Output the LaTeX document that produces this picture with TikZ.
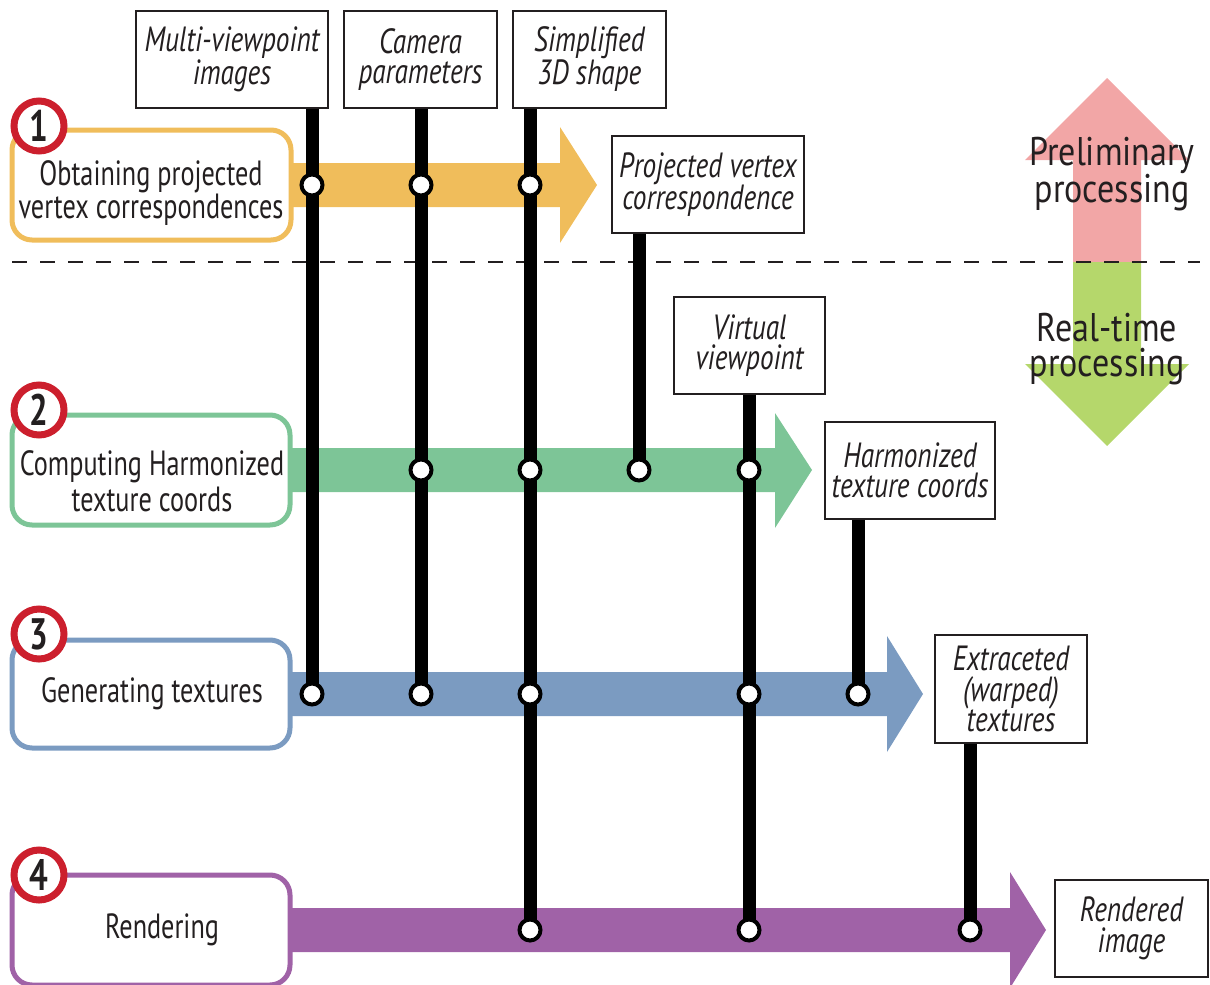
\documentclass[tikz,border=0pt]{standalone}
\usepackage{fontspec}
\setmainfont[FakeStretch=0.75]{PT Sans}
\newfontfamily\itfam[FakeStretch=0.78]{PT Sans Italic}
\newfontfamily\sidefam[FakeStretch=0.85]{PT Sans}
\definecolor{txt}{HTML}{231F20}
\definecolor{orangeA}{HTML}{F0BD5B}
\definecolor{greenA}{HTML}{7DC597}
\definecolor{blueA}{HTML}{7B9BC1}
\definecolor{purpleA}{HTML}{A062A7}
\definecolor{numred}{HTML}{CC1F2D}
\definecolor{pinkA}{HTML}{F2A6A6}
\definecolor{limeA}{HTML}{B5D76B}
\begin{document}
\begin{tikzpicture}[x=1pt,y=-1pt,
  inbox/.style={draw=txt, line width=1.5pt, fill=white, text=txt,
    font=\itfam\fontsize{35}{30.5}\selectfont, align=center, inner sep=0pt},
  procbox/.style={line width=5pt, rounded corners=20pt, fill=white, inner sep=0pt},
  proclabel/.style={text=txt, font=\fontsize{35}{31}\selectfont, align=center, inner sep=0pt},
  bar/.style={line width=13pt, draw=black},
  dot/.style={circle, draw=black, fill=white, line width=4pt, minimum size=21pt, inner sep=0pt},
  num/.style={circle, draw=numred, fill=white, line width=7pt, minimum size=50pt,
    inner sep=0pt, text=txt, font=\bfseries\fontsize{44}{44}\selectfont},
  sidelabel/.style={text=txt, font=\sidefam\fontsize{40}{35}\selectfont, align=center, inner sep=0pt},
]
\useasboundingbox (0,0) rectangle (1210,985);

% right side arrows
\fill[pinkA] (1073,262) -- (1073,160) -- (1025,160) -- (1107,78) -- (1189,160) -- (1141,160) -- (1141,262) -- cycle;
\fill[limeA] (1073,262) -- (1073,364) -- (1025,364) -- (1107,446) -- (1189,364) -- (1141,364) -- (1141,262) -- cycle;
\draw[txt, line width=2pt, dash pattern=on 15pt off 13pt] (12,262) -- (1200,262);
\node[sidelabel] (prelim) at (1112,174) {Preliminary\\processing};
\node[sidelabel] (realtime) at (1107,349) {Real-time\\processing};

% process arrows
\fill[orangeA] (280,163) -- (560,163) -- (560,127) -- (597,185) -- (560,243) -- (560,207) -- (280,207) -- cycle;
\fill[greenA] (280,448) -- (775,448) -- (775,413) -- (812,470) -- (775,528) -- (775,492) -- (280,492) -- cycle;
\fill[blueA] (280,672) -- (887,672) -- (887,636) -- (923,694) -- (887,752) -- (887,716) -- (280,716) -- cycle;
\fill[purpleA] (280,908) -- (1010,908) -- (1010,872) -- (1046,930) -- (1010,988) -- (1010,952) -- (280,952) -- cycle;

% process boxes
\node[procbox, draw=orangeA, minimum width=279pt, minimum height=110pt] (p1) at (151.5,185) {};
\node[procbox, draw=greenA, minimum width=278pt, minimum height=110pt] (p2) at (151,470) {};
\node[procbox, draw=blueA, minimum width=278pt, minimum height=108pt] (p3) at (151,694) {};
\node[procbox, draw=purpleA, minimum width=278pt, minimum height=110pt] (p4) at (151,930) {};
\node[proclabel] (l1) at (151,193) {Obtaining projected\\vertex correspondences};
\node[proclabel, font=\fontsize{35}{36}\selectfont] (l2) at (152,481) {Computing Harmonized\\texture coords};
\node[proclabel] (l3) at (152,694) {Generating textures};
\node[proclabel] (l4) at (162,930) {Rendering};

% data boxes
\node[inbox, minimum width=192pt, minimum height=97pt] (mv) at (232,59.5) {Multi-viewpoint\\images};
\node[inbox, minimum width=153pt, minimum height=97pt] (cp) at (420.5,59.5) {Camera\\parameters};
\node[inbox, minimum width=153pt, minimum height=97pt] (ss) at (589.5,59.5) {Simplified\\3D shape};
\node[inbox, minimum width=192pt, minimum height=97pt] (pv) at (708,184.5) {Projected vertex\\correspondence};
\node[inbox, minimum width=151pt, minimum height=97pt] (vv) at (749.5,345.5) {Virtual\\viewpoint};
\node[inbox, minimum width=170pt, minimum height=97pt] (hc) at (910,470.5) {Harmonized\\texture coords};
\node[inbox, minimum width=152pt, minimum height=108pt] (et) at (1011,689) {Extraceted\\(warped)\\textures};
\node[inbox, minimum width=153pt, minimum height=97pt] (ri) at (1131.5,928.5) {Rendered\\image};

% junction coordinates
\coordinate (a1) at (312,185); \coordinate (a2) at (421,185); \coordinate (a3) at (530,185);
\coordinate (b2) at (421,470); \coordinate (b3) at (530,470); \coordinate (b4) at (639,470); \coordinate (b5) at (749,470);
\coordinate (c1) at (312,694); \coordinate (c2) at (421,694); \coordinate (c3) at (530,694); \coordinate (c5) at (749,694); \coordinate (c6) at (858,694);
\coordinate (d3) at (530,930); \coordinate (d5) at (749,930); \coordinate (d7) at (970,930);

% bars
\draw[bar] (mv.south -| c1) -- (c1);
\draw[bar] (cp.south -| c2) -- (c2);
\draw[bar] (ss.south -| d3) -- (d3);
\draw[bar] (pv.south -| b4) -- (b4);
\draw[bar] (vv.south -| d5) -- (d5);
\draw[bar] (hc.south -| c6) -- (c6);
\draw[bar] (et.south -| d7) -- (d7);

% dots
\foreach \p in {a1,a2,a3,b2,b3,b4,b5,c1,c2,c3,c5,c6,d3,d5,d7}
  \node[dot] (n\p) at (\p) {};

% numbers
\node[num] (n1) at (39,126) {1};
\node[num] (n2) at (39,410) {2};
\node[num] (n3) at (39,634) {3};
\node[num] (n4) at (39,875) {4};
\end{tikzpicture}
\end{document}
